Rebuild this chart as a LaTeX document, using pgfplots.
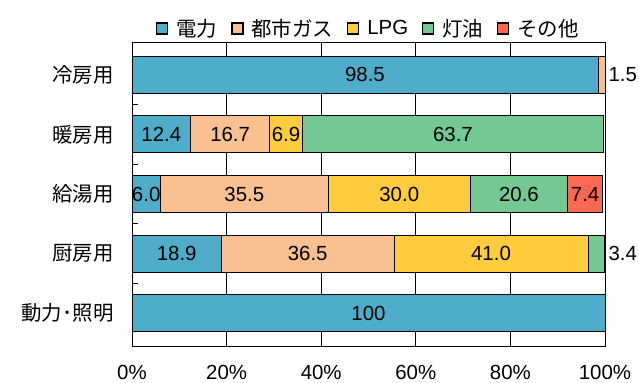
\documentclass[border=0pt]{standalone}
\usepackage{pgfplots}
\pgfplotsset{compat=1.18}
\usepackage{fontspec}
\setmainfont{Liberation Sans}
\newfontfamily\cjk{Noto Sans CJK JP}
\definecolor{cElec}{RGB}{78,172,200}
\definecolor{cGas}{RGB}{249,192,146}
\definecolor{cLPG}{RGB}{255,204,62}
\definecolor{cKero}{RGB}{116,200,146}
\definecolor{cOther}{RGB}{252,104,82}
\begin{document}
\begin{tikzpicture}[font=\fontsize{20.5}{24}\selectfont]
\begin{axis}[
  name=ax,
  scale only axis,
  width=473bp, height=304bp,
  xbar stacked,
  bar width=37bp,
  xmin=0, xmax=100,
  ymin=-0.55, ymax=4.55,
  y dir=reverse,
  clip=false,
  font=\fontsize{20.5}{24}\selectfont,
  /pgf/number format/assume math mode=true,
  xtick={0,20,40,60,80,100},
  xticklabel={\pgfmathprintnumber{\tick}\%},
  xticklabel style={yshift=-16bp},
  xmajorgrids,
  major grid style={black, line width=0.8pt},
  axis line style={black, line width=0.8pt},
  major tick length=0pt,
  ytick={0,1,2,3,4},
  yticklabels={{\cjk 冷房用},{\cjk 暖房用},{\cjk 給湯用},{\cjk 厨房用},{\cjk 動力･照明}},
  yticklabel style={xshift=-15bp},
  extra y ticks={0.5,1.5,2.5,3.5},
  extra y tick labels={},
  extra y tick style={major tick length=6bp, tick align=inside, ymajorgrids=false, tick style={black, line width=0.8pt}},
  tick pos=left,
  legend columns=-1,
  legend style={draw=none, at={(0.5,1)}, anchor=south, yshift=0bp, font=\fontsize{20.5}{24}\selectfont,
    /tikz/every odd column/.append style={column sep=6bp},
    /tikz/every even column/.append style={column sep=12bp}},
  legend image code/.code={\draw[#1,draw=black,line width=1.2pt] (0bp,-5.5bp) rectangle (11bp,5.5bp);},
  every axis plot/.append style={draw=black, line width=0.8pt},
]
\addplot[fill=cElec] coordinates {(98.5,0) (12.4,1) (6.0,2) (18.9,3) (100,4)};
\addplot[fill=cGas] coordinates {(1.5,0) (16.7,1) (35.5,2) (36.5,3) (0,4)};
\addplot[fill=cLPG] coordinates {(0,0) (6.9,1) (30.0,2) (41.0,3) (0,4)};
\addplot[fill=cKero] coordinates {(0,0) (63.7,1) (20.6,2) (3.4,3) (0,4)};
\addplot[fill=cOther] coordinates {(0,0) (0,1) (7.4,2) (0,3) (0,4)};
\legend{{\cjk 電力},{\cjk 都市ガス},LPG,{\cjk 灯油},{\cjk その他}}
\coordinate (a1) at (axis cs:49.25,0);
\coordinate (a2) at (axis cs:100,0);
\coordinate (b1) at (axis cs:6.2,1);
\coordinate (b2) at (axis cs:20.75,1);
\coordinate (b3) at (axis cs:32.55,1);
\coordinate (b4) at (axis cs:67.85,1);
\coordinate (c1) at (axis cs:3.0,2);
\coordinate (c2) at (axis cs:23.75,2);
\coordinate (c3) at (axis cs:56.5,2);
\coordinate (c4) at (axis cs:81.8,2);
\coordinate (c5) at (axis cs:95.8,2);
\coordinate (d1) at (axis cs:9.45,3);
\coordinate (d2) at (axis cs:37.15,3);
\coordinate (d3) at (axis cs:75.9,3);
\coordinate (d4) at (axis cs:100,3);
\coordinate (e1) at (axis cs:50,4);
\end{axis}
\node at (a1) {98.5};
\node[anchor=west] at (a2) {1.5};
\node at (b1) {12.4};
\node at (b2) {16.7};
\node at (b3) {6.9};
\node at (b4) {63.7};
\node at (c1) {6.0};
\node at (c2) {35.5};
\node at (c3) {30.0};
\node at (c4) {20.6};
\node at (c5) {7.4};
\node at (d1) {18.9};
\node at (d2) {36.5};
\node at (d3) {41.0};
\node[anchor=west] at (d4) {3.4};
\node at (e1) {100};
\pgfresetboundingbox
\path (ax.south west) ++(-132bp,-37bp) rectangle ++(639bp,383bp);
\end{tikzpicture}
\end{document}
